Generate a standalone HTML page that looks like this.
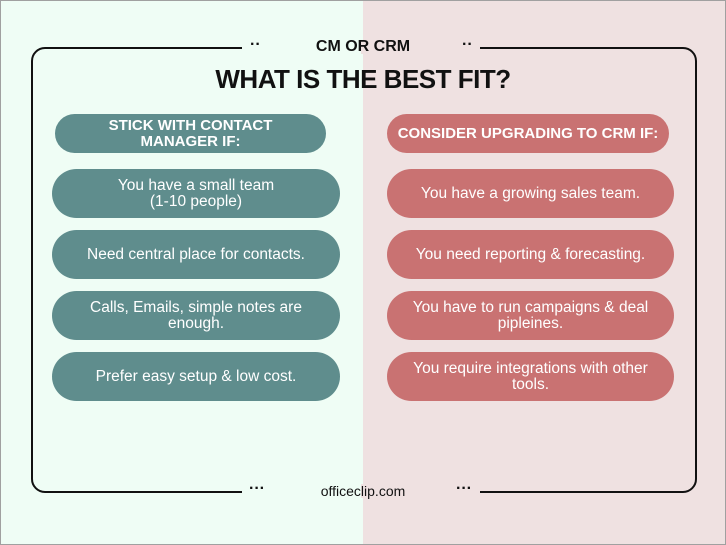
<!DOCTYPE html>
<html><head><style>
body{margin:0;width:726px;height:545px;position:relative;overflow:hidden;font-family:"Liberation Sans",sans-serif}
.bgl{position:absolute;left:0;top:0;width:363px;height:545px;background:#effdf5}
.bgr{position:absolute;left:363px;top:0;width:363px;height:545px;background:#efe1e1}
.outer{position:absolute;left:0;top:0;width:724px;height:543px;border:1px solid #a0a0a0}
.frame{position:absolute;left:31px;top:47px;width:662px;height:442px;border:2px solid #111;border-radius:14px}
.t{position:absolute;text-align:center;color:#111;font-weight:bold}
.p{position:absolute;border-radius:25px;color:#fff;display:flex;align-items:center;justify-content:center;text-align:center;font-size:15.5px;line-height:16px}
.g{background:#5f8d8d}.r{background:#c97272}
.h{font-weight:bold;font-size:15px;line-height:16px}
.dots{position:absolute;font-weight:bold;font-size:16px;color:#111}
</style></head><body>
<div class="bgl"></div><div class="bgr"></div><div class="outer"></div>
<div class="frame"></div>
<div style="position:absolute;left:242px;top:40px;width:238px;height:14px;background:linear-gradient(90deg,#effdf5 50%,#efe1e1 50%)"></div>
<div style="position:absolute;left:242px;top:484px;width:238px;height:14px;background:linear-gradient(90deg,#effdf5 50%,#efe1e1 50%)"></div>
<div class="dots" style="left:250px;top:36px">··</div>
<div class="dots" style="left:462px;top:36px">··</div>
<div class="dots" style="left:249px;top:480px">···</div>
<div class="dots" style="left:456px;top:480px">···</div>
<div class="t" style="left:0;width:726px;top:38px;font-size:16px">CM OR CRM</div>
<div class="t" style="left:0;width:726px;top:64px;font-size:26px;letter-spacing:-0.5px">WHAT IS THE BEST FIT?</div>
<div class="t" style="left:0;width:726px;top:483px;font-size:14px;font-weight:normal">officeclip.com</div>

<div class="p g h" style="left:55px;top:114px;width:271px;height:39px">STICK WITH CONTACT<br>MANAGER IF:</div>
<div class="p g" style="left:52px;top:169px;width:288px;height:49px">You have a small team<br>(1-10 people)</div>
<div class="p g" style="left:52px;top:230px;width:288px;height:49px">Need central place for contacts.</div>
<div class="p g" style="left:52px;top:291px;width:288px;height:49px">Calls, Emails, simple notes are<br>enough.</div>
<div class="p g" style="left:52px;top:352px;width:288px;height:49px">Prefer easy setup &amp; low cost.</div>

<div class="p r h" style="left:387px;top:114px;width:282px;height:39px">CONSIDER UPGRADING TO CRM IF:</div>
<div class="p r" style="left:387px;top:169px;width:287px;height:49px">You have a growing sales team.</div>
<div class="p r" style="left:387px;top:230px;width:287px;height:49px">You need reporting &amp; forecasting.</div>
<div class="p r" style="left:387px;top:291px;width:287px;height:49px">You have to run campaigns &amp; deal<br>pipleines.</div>
<div class="p r" style="left:387px;top:352px;width:287px;height:49px">You require integrations with other<br>tools.</div>
</body></html>
